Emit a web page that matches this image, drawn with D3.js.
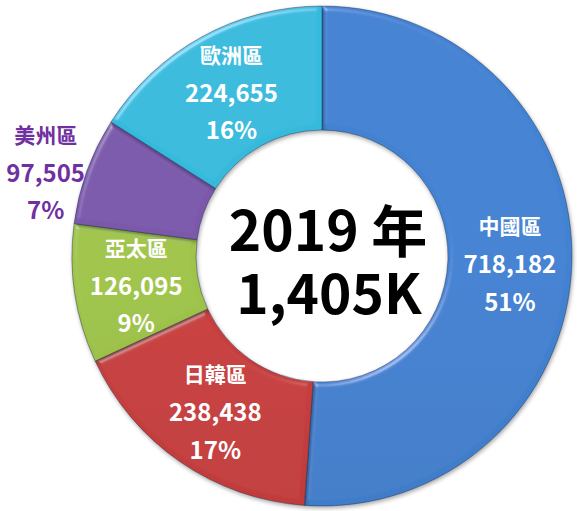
<!DOCTYPE html>
<html>
<head>
<meta charset="utf-8">
<script src="https://cdn.jsdelivr.net/npm/d3@7"></script>
<style>
  html, body { margin: 0; padding: 0; background: #fff; }
  svg { display: block; }
  text { font-family: "Noto Sans CJK TC", "Open Sans", sans-serif; font-weight: 700; }
</style>
</head>
<body>
<svg id="chart" width="577" height="511"></svg>
<script>
// ---- data ----
const categories = ["中國區", "日韓區", "亞太區", "美州區", "歐洲區"];
const values = [718182, 238438, 126095, 97505, 224655];
const colors = ["#3F7DC9", "#C23B3B", "#98BC46", "#7654A4", "#33B2D4"];
const labelColors = ["#ffffff", "#ffffff", "#ffffff", "#7030A0", "#ffffff"];
const outsideLabel = [false, false, false, true, false];
const centerYear = "2019";
const centerYearUnit = "年";
const centerTotal = "1,405K";

// ---- layout ----
const W = 577, H = 511;
const cx = 322, cy = 256;
const rOuter = 250, rInner = 126;
const svg = d3.select("#chart");
const defs = svg.append("defs");

const total = d3.sum(values);
const data = categories.map((c, i) => ({ name: c, value: values[i], color: colors[i], lc: labelColors[i], out: outsideLabel[i] }));

const pie = d3.pie().value(d => d.value).sort(null).startAngle(0).endAngle(2 * Math.PI);
const arcs = pie(data);
const arc = d3.arc().innerRadius(rInner).outerRadius(rOuter);
const labelArc = d3.arc().innerRadius(188).outerRadius(188);

// gradients
arcs.forEach((a, i) => {
  const g = defs.append("linearGradient")
    .attr("id", "grad" + i)
    .attr("gradientUnits", "userSpaceOnUse")
    .attr("x1", 0).attr("y1", cy - rOuter).attr("x2", 0).attr("y2", cy + rOuter);
  g.append("stop").attr("offset", "0%").attr("stop-color", d3.color(a.data.color).brighter(0.12));
  g.append("stop").attr("offset", "100%").attr("stop-color", d3.color(a.data.color).darker(0.15));
});

// bevel filter
const f = defs.append("filter").attr("id", "bevel").attr("x", "-10%").attr("y", "-10%").attr("width", "120%").attr("height", "120%");
f.append("feGaussianBlur").attr("in", "SourceAlpha").attr("stdDeviation", 2.5).attr("result", "blur");
const spec = f.append("feSpecularLighting").attr("in", "blur").attr("surfaceScale", 4)
  .attr("specularConstant", 0.6).attr("specularExponent", 22).attr("lighting-color", "#ffffff").attr("result", "spec");
spec.append("feDistantLight").attr("azimuth", 235).attr("elevation", 28);
f.append("feComposite").attr("in", "spec").attr("in2", "SourceAlpha").attr("operator", "in").attr("result", "specIn");
f.append("feComposite").attr("in", "SourceGraphic").attr("in2", "specIn").attr("operator", "arithmetic")
  .attr("k1", 0).attr("k2", 1).attr("k3", 0.5).attr("k4", 0).attr("result", "lit");
f.append("feGaussianBlur").attr("in", "SourceAlpha").attr("stdDeviation", 2).attr("result", "sb");
f.append("feOffset").attr("in", "sb").attr("dx", 1).attr("dy", 2).attr("result", "so");
f.append("feComponentTransfer").attr("in", "so").attr("result", "sh")
  .append("feFuncA").attr("type", "linear").attr("slope", 0.35);
const m = f.append("feMerge");
m.append("feMergeNode").attr("in", "sh");
m.append("feMergeNode").attr("in", "lit");

const g = svg.append("g").attr("transform", `translate(${cx},${cy})`);

g.selectAll("path.slice").data(arcs).join("path")
  .attr("class", "slice")
  .attr("d", arc)
  .attr("fill", (d, i) => `url(#grad${i})`)
  .attr("stroke", "rgba(20,40,70,0.55)")
  .attr("stroke-width", 0.8)
  .attr("filter", "url(#bevel)");

// labels
const lineGap = 37.5;
arcs.forEach(a => {
  let x, y;
  if (a.data.out) {
    const ang = 287 * Math.PI / 180, r = 290;
    x = r * Math.sin(ang) + 1; y = -r * Math.cos(ang);
  } else {
    [x, y] = labelArc.centroid(a);
  }
  const pct = Math.round(a.data.value / total * 100) + "%";
  const t = g.append("g").attr("transform", `translate(${x},${y})`).attr("fill", a.data.lc);
  t.append("text").attr("text-anchor", "middle").attr("dominant-baseline", "central")
    .attr("y", -lineGap).attr("font-size", 21).text(a.data.name);
  t.append("text").attr("text-anchor", "middle").attr("dominant-baseline", "central")
    .attr("y", 0).attr("font-size", 24).text(d3.format(",")(a.data.value));
  t.append("text").attr("text-anchor", "middle").attr("dominant-baseline", "central")
    .attr("y", lineGap).attr("font-size", 24).text(pct);
});

// center
const c1 = g.append("text").attr("text-anchor", "middle").attr("dominant-baseline", "central")
  .attr("x", 6).attr("y", -29).attr("fill", "#000");
c1.append("tspan").attr("font-size", 55).text(centerYear + " ");
c1.append("tspan").attr("font-size", 56).text(centerYearUnit);
g.append("text").attr("text-anchor", "middle").attr("dominant-baseline", "central")
  .attr("x", 7).attr("y", 34).attr("font-size", 55).attr("fill", "#000").text(centerTotal);
</script>
</body>
</html>
